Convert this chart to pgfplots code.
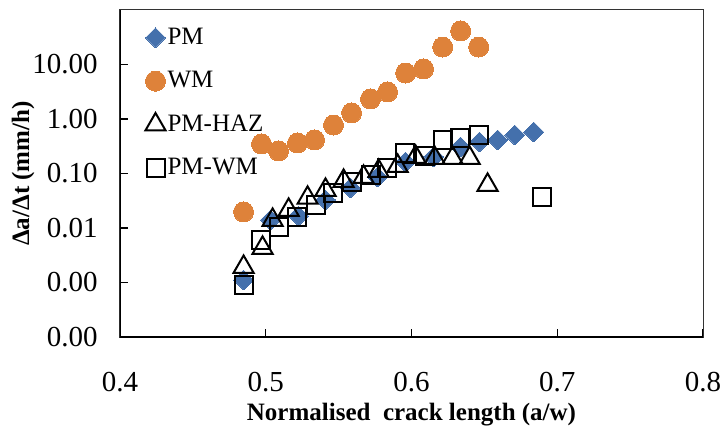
\documentclass[border=0pt]{standalone}
\usepackage{pgfplots}
\pgfplotsset{compat=1.18}
\usepackage{fontspec}
\setmainfont{Liberation Serif}

\definecolor{pmblue}{RGB}{68,112,172}
\definecolor{wmorange}{RGB}{222,130,58}

\begin{document}
\begin{tikzpicture}
\begin{axis}[
  scale only axis,
  width=291.5pt, height=163.5pt,
  xmin=0.4, xmax=0.8,
  ymode=log, ymin=1e-4, ymax=100,
  xtick={0.4,0.5,0.6,0.7,0.8},
  xticklabels={0.4,0.5,0.6,0.7,0.8},
  ytick={1e-4,1e-3,1e-2,1e-1,1,10},
  yticklabels={0.00,0.00,0.01,0.10,1.00,10.00},
  minor ytick={}, yminorticks=false,
  tick align=inside,
  xtick pos=bottom, ytick pos=left,
  major tick length=4pt,
  tick style={black, line width=0.6pt},
  axis line style={line width=0.5pt, draw=black!80},
  ticklabel style={font=\fontsize{14.5}{16}\selectfont},
  yticklabel style={anchor=east, inner sep=0pt, xshift=-11pt},
  xticklabel style={anchor=center, inner sep=0pt, yshift=-22.5pt},
  xlabel={\textbf{Normalised\ \ crack length (a/w)}},
  ylabel={\textbf{Δa/Δt (mm/h)}},
  label style={font=\fontsize{12.5}{14}\selectfont},
  xlabel style={at={(axis description cs:0.5,-0.236)}, anchor=center},
  ylabel style={at={(axis description cs:-0.166,0.5)}, anchor=center},
  legend style={draw=none, fill=none, at={(axis description cs:0.043,0.952)},
    anchor=north west, font=\fontsize{12.5}{14}\selectfont,
    row sep=10pt, inner sep=0pt,
    nodes={inner sep=1pt}},
  legend cell align=left,
]
% PM
\addplot[only marks, pmblue, mark=square*, mark size=3.5pt, mark options={rotate=45, draw=pmblue, fill=pmblue, line width=0pt}] coordinates {
(0.4848,0.00111) (0.5033,0.0140) (0.5225,0.0166) (0.5410,0.0327)
(0.5582,0.0542) (0.5767,0.0863) (0.5959,0.163) (0.6152,0.201)
(0.6337,0.306) (0.6467,0.378) (0.6591,0.412) (0.6708,0.508) (0.6838,0.577)
};
\addlegendentry{PM}
% WM
\addplot[only marks, wmorange, mark=*, mark size=5pt, mark options={draw=wmorange, fill=wmorange, line width=0pt}] coordinates {
(0.4848,0.0197) (0.4971,0.348) (0.5088,0.259) (0.5218,0.363)
(0.5335,0.412) (0.5465,0.776) (0.5589,1.29) (0.5719,2.33)
(0.5836,3.13) (0.5960,6.98) (0.6083,8.27) (0.6214,20.9)
(0.6337,41.2) (0.6461,20.9)
};
\addlegendentry{WM}
% PM-HAZ
\addplot[only marks, black, mark=triangle, mark size=5.8pt, mark options={draw=black, line width=1pt, fill=none}] coordinates {
(0.4848,0.00192) (0.4978,0.0043) (0.5047,0.0140) (0.5157,0.0214)
(0.5287,0.0356) (0.5410,0.0498) (0.5534,0.0728) (0.5671,0.0863)
(0.5774,0.111) (0.5905,0.137) (0.6028,0.201) (0.6159,0.192)
(0.6282,0.192) (0.6399,0.192) (0.6522,0.0615)
};
\addlegendentry{PM-HAZ}
% PM-WM
\addplot[only marks, black, mark=square, mark size=4.5pt, mark options={draw=black, line width=1pt, fill=none}] coordinates {
(0.4848,0.00090) (0.4964,0.0060) (0.5088,0.0104) (0.5211,0.0159)
(0.5342,0.0264) (0.5458,0.0439) (0.5595,0.0698) (0.5719,0.0938)
(0.5829,0.126) (0.5953,0.238) (0.6090,0.209) (0.6214,0.412)
(0.6330,0.448) (0.6461,0.508) (0.6893,0.037)
};
\addlegendentry{PM-WM}
% heavier left and bottom axis lines
\draw[line width=1.3pt, black] (rel axis cs:0,1) -- (rel axis cs:0,0) -- (rel axis cs:1,0);
\coordinate (bl) at (rel axis cs:0,0);
\coordinate (tr) at (rel axis cs:1,1);
\end{axis}
\pgfresetboundingbox
\path ([xshift=-60pt,yshift=-48.5pt]bl) rectangle ([xshift=10pt,yshift=5pt]tr);
\end{tikzpicture}
\end{document}
